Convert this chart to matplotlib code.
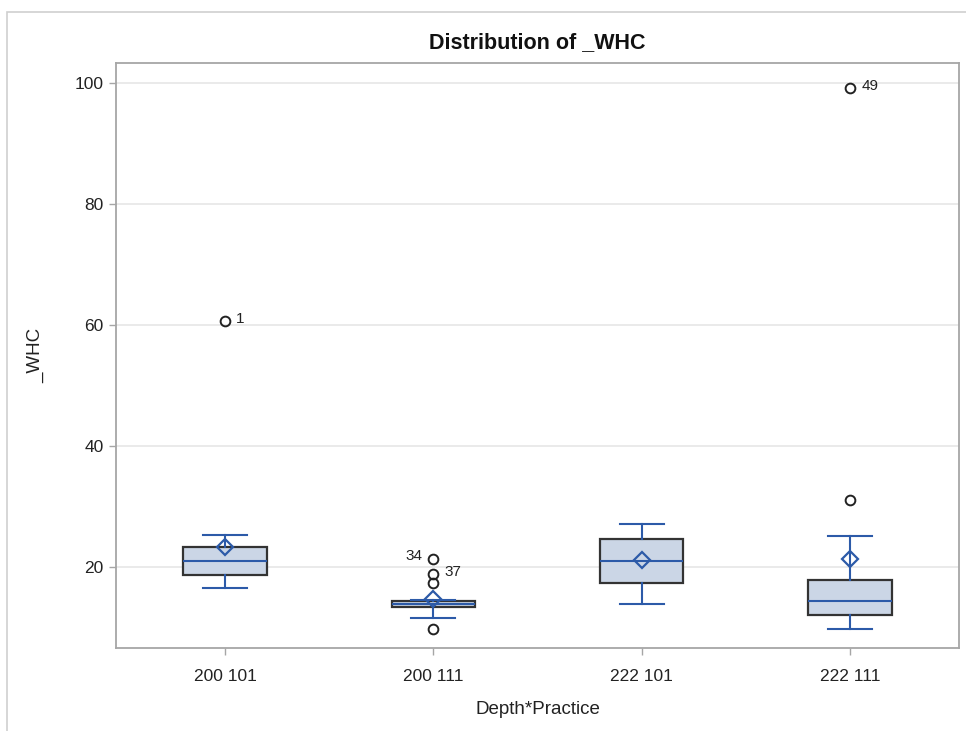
import numpy as np
import matplotlib.pyplot as plt
from matplotlib.patches import Rectangle

# --- DATA ---
categories = ["200 101", "200 111", "222 101", "222 111"]
whislo = [16.5, 11.6, 13.8, 9.8]
q1 = [18.6, 13.3, 17.3, 12.1]
medians = [21.0, 13.9, 21.0, 14.3]
q3 = [23.3, 14.4, 24.6, 17.85]
whishi = [25.3, 14.5, 27.1, 25.1]
means = [23.25, 14.7, 21.1, 21.3]
outliers = [[60.7], [21.3, 18.9, 17.4, 9.8], [], [31.0, 99.2]]

# labelled outliers: (label, group index, value, side)
outlier_labels = [("1", 0, 60.7, "right"),
                  ("34", 1, 21.3, "left"),
                  ("37", 1, 18.9, "right"),
                  ("49", 3, 99.2, "right")]

# --- STYLE ---
plt.rcParams['font.family'] = ['Liberation Sans', 'DejaVu Sans']
blue = "#2c5aa8"
box_fill = "#cbd6e6"
frame_gray = "#a6a6a6"

W, H = 966, 731
fig = plt.figure(figsize=(W / 100, H / 100), dpi=100)
ax = fig.add_axes([116 / W, 1 - 648 / H, (959 - 116) / W, (648 - 63) / H])

# outer panel border
fig.add_artist(Rectangle((7 / W, -0.1), 1.2, 1.1 - 12 / H, transform=fig.transFigure,
                         fill=False, edgecolor="#cfcfcf", linewidth=1.2))

stats = []
for i in range(len(categories)):
    stats.append(dict(label=categories[i], whislo=whislo[i], q1=q1[i], med=medians[i],
                      q3=q3[i], whishi=whishi[i], mean=means[i], fliers=outliers[i]))

positions = np.arange(len(categories))
ax.bxp(stats, positions=positions, widths=0.4, patch_artist=True, showmeans=True,
       boxprops=dict(facecolor=box_fill, edgecolor="#333333", linewidth=1.6),
       whiskerprops=dict(color=blue, linewidth=1.5),
       capprops=dict(color=blue, linewidth=1.5),
       capwidths=0.21,
       medianprops=dict(color=blue, linewidth=1.5),
       meanprops=dict(marker="D", markerfacecolor="none", markeredgecolor=blue,
                      markersize=8, markeredgewidth=1.6),
       flierprops=dict(marker="o", markerfacecolor="none", markeredgecolor="#222222",
                       markersize=7, markeredgewidth=1.4),
       zorder=3)

for label, gi, val, side in outlier_labels:
    dx = 8 if side == "right" else -8
    dy = 2 if side == "left" else 1
    ax.annotate(label, (positions[gi], val), xytext=(dx, dy), textcoords="offset points",
                ha="left" if side == "right" else "right", va="center",
                fontsize=11, color="#222222")

ax.set_xlim(-0.523, 3.523)
ax.set_ylim(6.6, 103.3)
ax.set_yticks([20, 40, 60, 80, 100])
ax.set_xticks(positions)
ax.set_xticklabels(categories)
ax.yaxis.grid(True, color="#e6e6e6", linewidth=1.2, zorder=0)
ax.set_axisbelow(True)

for sp in ax.spines.values():
    sp.set_color(frame_gray)
    sp.set_linewidth(1.3)
ax.tick_params(axis="both", direction="out", length=5, width=1, color=frame_gray,
               labelsize=12.5, labelcolor="#222222", pad=4)
ax.tick_params(axis="x", pad=10)

ax.set_title("Distribution of _WHC", fontsize=15.5, fontweight="bold", pad=11, color="#111111")
ax.set_xlabel("Depth*Practice", fontsize=13.5, color="#222222", labelpad=12)
ax.set_ylabel("_WHC", fontsize=13.5, color="#222222", labelpad=22)

fig.savefig("out.png", dpi=100)
